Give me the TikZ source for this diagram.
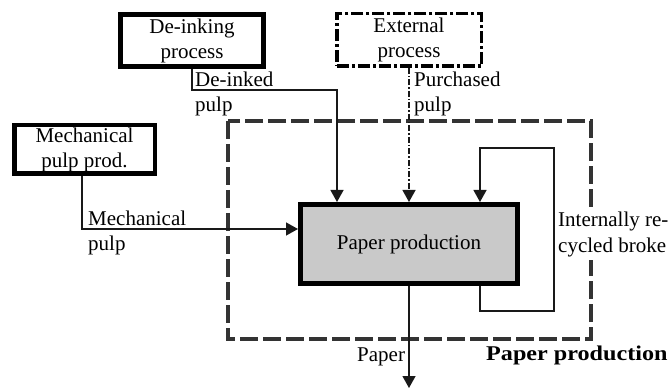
\documentclass[tikz,border=0pt]{standalone}
\usepackage{fontspec}
\setmainfont{Liberation Serif}
\newfontfamily\widefont{Liberation Serif}[FakeStretch=1.15]
\usetikzlibrary{arrows.meta}
\begin{document}
\begin{tikzpicture}[x=1pt,y=-1pt,
  font=\fontsize{21}{25}\selectfont,
  procbox/.style={draw=black, align=center, inner sep=0pt},
  flowline/.style={line width=1.3pt, draw=black!90},
  flowarrow/.style={flowline, -{Triangle[length=12pt,width=13pt]}},
  lbl/.style={anchor=base west, inner sep=0pt, align=left},
  boundary/.style={draw=black!80, line width=3.5pt, dash pattern=on 18pt off 5pt}
]
\useasboundingbox (0,0) rectangle (672,390);

% system boundary
\draw[boundary] (228,121) rectangle (591,339);

% process boxes
\node[procbox, line width=5pt, minimum width=143pt, minimum height=52pt] (deink) at (192,40.5) {De-inking\\process};
\node[procbox, line width=3.5pt, dash pattern=on 12pt off 3pt on 3pt off 3pt,
      minimum width=144.5pt, minimum height=52.5pt] (ext) at (409,40) {External\\process};
\node[procbox, line width=4.5pt, minimum width=140.5pt, minimum height=48.5pt] (mech) at (84.5,149.5) {Mechanical\\pulp prod.};
\node[procbox, line width=5pt, fill=black!21, minimum width=217pt, minimum height=79pt] (paper) at (409,244) {Paper production};

% junction points of the connectors
\coordinate (dk) at (337,90);
\coordinate (mj) at (82,229);
\coordinate (lx) at (480,0);
\coordinate (l1) at (554,311);
\coordinate (l2) at (554,148);
\coordinate (out) at (409,388);

% flows
\draw[flowarrow] (deink.south) |- (dk) -- (dk |- paper.north);
\draw[flowarrow, dash pattern=on 6pt off 2pt on 1.5pt off 2pt] (ext.south) -- (ext.south |- paper.north);
\draw[flowarrow] (mj |- mech.south) -- (mj) -- (mj -| paper.west);
\draw[flowarrow] (lx |- paper.south) |- (l1) -- (l2) -| (lx |- paper.north);
\draw[flowarrow] (paper.south) -- (out);

% labels (anchored at the baseline of their last line)
\node[lbl] (tdk) at (195,112) {De-inked\\pulp};
\node[lbl] (tpu) at (414,112) {Purchased\\pulp};
\node[lbl] (tme) at (88,251) {Mechanical\\pulp};
\node[lbl, fill=white, inner ysep=3pt] (tre) at (558,252) {Internally re-\\cycled broke};
\node[lbl] (tpa) at (357,361) {Paper};
\node[lbl, font=\fontsize{21}{25}\widefont\bfseries] (tsys) at (486,360) {Paper production};
\end{tikzpicture}
\end{document}
